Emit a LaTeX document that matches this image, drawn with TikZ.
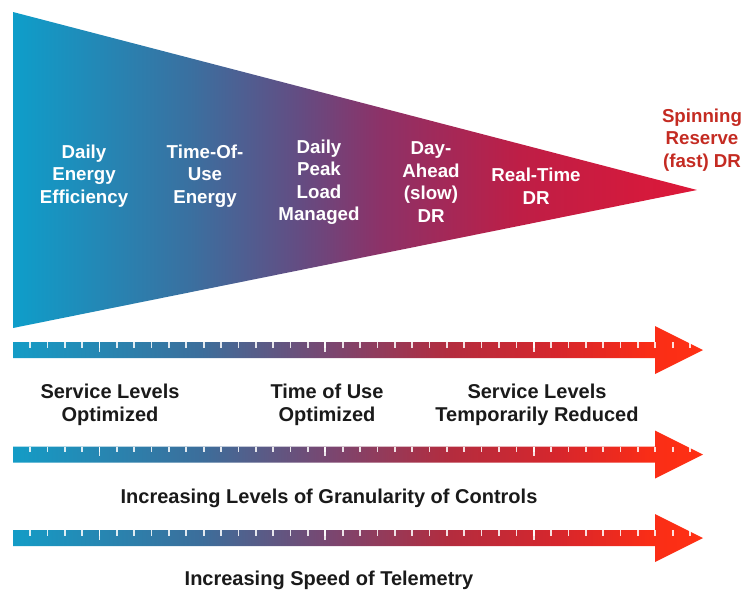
\documentclass[tikz,border=0pt]{standalone}
\usepackage{fontspec}
\setmainfont{Liberation Sans}
\usepackage{xcolor}
\usepackage{tikz}
\usetikzlibrary{positioning}

\definecolor{funnelcyan}{RGB}{14,158,202}
\definecolor{funnelsteel}{RGB}{58,112,160}
\definecolor{funnelpurple}{RGB}{100,76,130}
\definecolor{funnelplum}{RGB}{140,50,104}
\definecolor{funnelcrimson}{RGB}{190,30,70}
\definecolor{funnelred}{RGB}{222,24,56}
\definecolor{bandcyan}{RGB}{20,156,198}
\definecolor{bandsteel}{RGB}{60,110,155}
\definecolor{bandplum}{RGB}{122,70,112}
\definecolor{bandcrimson}{RGB}{180,44,62}
\definecolor{bandred}{RGB}{215,38,44}
\definecolor{bandorange}{RGB}{250,45,22}
\definecolor{bandtip}{RGB}{255,48,20}
\definecolor{spinred}{RGB}{196,43,34}
\definecolor{captiongray}{RGB}{26,26,26}

\pgfdeclarehorizontalshading{funnelshade}{100bp}{color(0bp)=(funnelcyan); color(25bp)=(funnelcyan); color(37.9bp)=(funnelsteel); color(46bp)=(funnelpurple); color(51.8bp)=(funnelplum); color(62bp)=(funnelcrimson); color(75bp)=(funnelred); color(100bp)=(funnelred)}
\pgfdeclarehorizontalshading{bandshade}{100bp}{color(0bp)=(bandcyan); color(25bp)=(bandcyan); color(38.6bp)=(bandsteel); color(48bp)=(bandplum); color(56.7bp)=(bandcrimson); color(64.6bp)=(bandred); color(71.2bp)=(bandorange); color(75bp)=(bandtip); color(100bp)=(bandtip)}

\begin{document}
\begin{tikzpicture}[
    x=1pt, y=-1pt,
    stage/.style={font=\fontsize{18.7}{22.5}\selectfont\bfseries, text=white, align=center, inner sep=0pt},
    caption/.style={font=\fontsize{20}{23}\selectfont\bfseries, text=captiongray, align=center, inner sep=0pt},
    band/.style={shading=bandshade},
    scaletick/.style={draw=white, draw opacity=0.85, line width=1.7pt}
]
\useasboundingbox (0,0) rectangle (746,590);

% Funnel of programme types
\shade[shading=funnelshade] (13,12) -- (697,190) -- (13,328) -- cycle;

\node[stage] (efficiency) at (84,176) {Daily\\Energy\\Efficiency};
\node[stage] (timeofuse) at (205,176) {Time-Of-\\Use\\Energy};
\node[stage] (peakload) at (319,182) {Daily\\Peak\\Load\\Managed};
\node[stage] (dayahead) at (431,182) {Day-\\Ahead\\(slow)\\DR};
\node[stage] (realtime) at (536,186) {Real-Time\\DR};
\node[stage, text=spinred] (spinning) at (702,140) {Spinning\\Reserve\\(fast) DR};

% Scale arrows
\foreach \y in {350,454.5,538} {
  \shade[band] (13,\y-8) -- (655,\y-8) -- (655,\y-24) -- (703,\y) -- (655,\y+24) -- (655,\y+8) -- (13,\y+8) -- cycle;
  \foreach \k in {0,...,38}
    \draw[scaletick] ({30+17.37*\k},\y-8) -- ++(0,5.5);
  \foreach \k in {4,17,29}
    \draw[scaletick] ({30+17.37*\k},\y-8) -- ++(0,9.5);
}

% Captions
\node[caption] (optimized) at (110,405) {Service Levels\\Optimized};
\node[caption] (touse) at (327,405) {Time of Use\\Optimized};
\node[caption] (reduced) at (537,405) {Service Levels\\Temporarily Reduced};
\node[caption] (granularity) at (329,498) {Increasing Levels of Granularity of Controls};
\node[caption] (telemetry) at (329,580) {Increasing Speed of Telemetry};

\end{tikzpicture}
\end{document}
